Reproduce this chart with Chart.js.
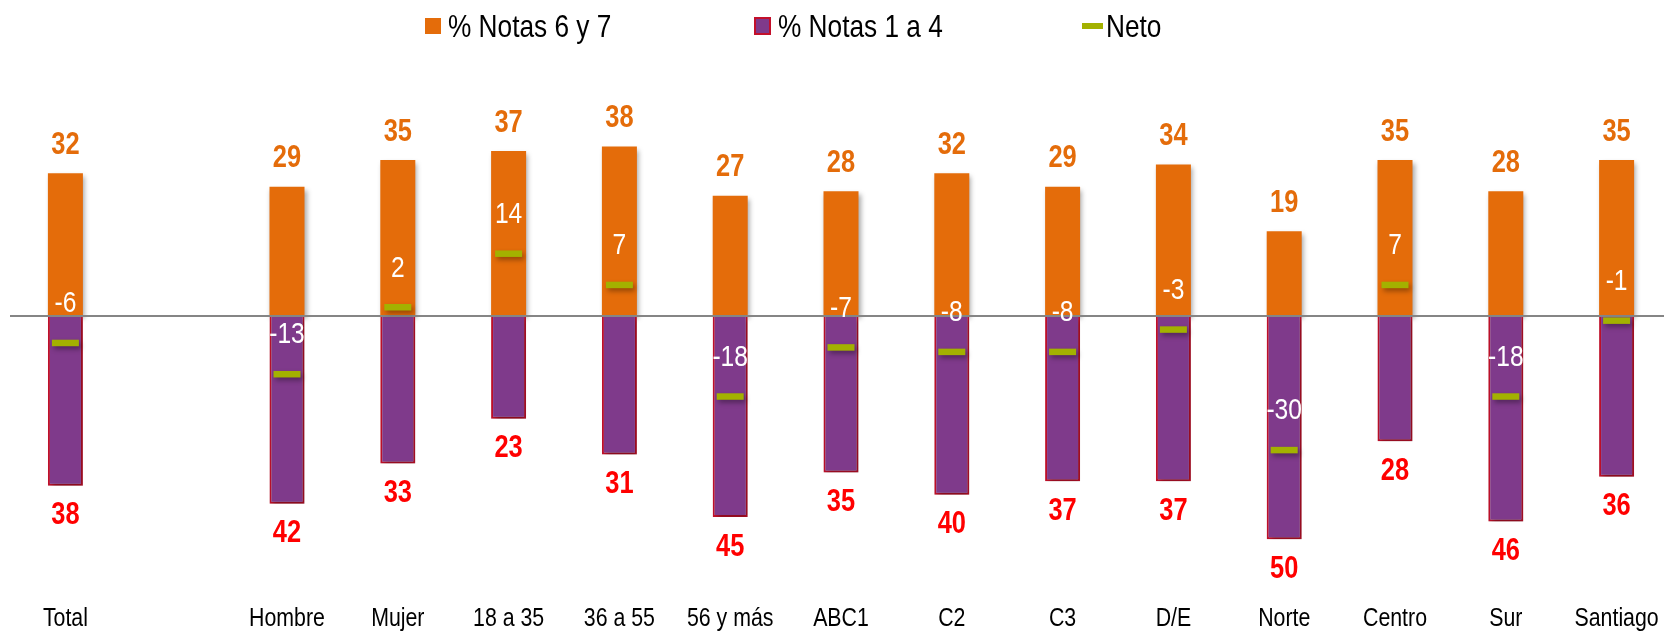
<!DOCTYPE html>
<html>
<head>
<meta charset="utf-8">
<script src="https://cdn.jsdelivr.net/npm/chart.js@4/dist/chart.umd.min.js"></script>
<style>
  html, body { margin: 0; padding: 0; background: #ffffff; }
  #wrap { width: 1664px; height: 633px; }
</style>
</head>
<body>
<div id="wrap"><canvas id="c" width="1664" height="633"></canvas></div>
<script>
// ---- data ----
const categories = ['Total', '', 'Hombre', 'Mujer', '18 a 35', '36 a 55', '56 y más', 'ABC1', 'C2', 'C3', 'D/E', 'Norte', 'Centro', 'Sur', 'Santiago'];
const notas67 = [32, null, 29, 35, 37, 38, 27, 28, 32, 29, 34, 19, 35, 28, 35];
const notas14 = [38, null, 42, 33, 23, 31, 45, 35, 40, 37, 37, 50, 28, 46, 36];
const neto = [-6, null, -13, 2, 14, 7, -18, -7, -8, -8, -3, -30, 7, -18, -1];
const seriesNames = ['% Notas 6 y 7', '% Notas 1 a 4', 'Neto'];

// ---- styles ----
const FONT = '"Liberation Sans", Arial, sans-serif';
const NARROW = 0.82; // emulate Arial Narrow
const ORANGE = '#E46C0A';
const PURPLE = '#7F3A8B';
const PURPLE_BORDER = '#C3102B';
const OLIVE = '#A3B100';
const RED_LABEL = '#FF0000';

// plot area geometry (pixels)
const AREA = { left: 10, right: 1672, top: 93, bottom: 584 };

function narrowText(ctx, text, x, y, align) {
  ctx.save();
  ctx.translate(x, y);
  ctx.scale(NARROW, 1);
  ctx.textAlign = align;
  ctx.fillText(text, 0, 0);
  ctx.restore();
}

const areaPlugin = {
  id: 'fixedArea',
  afterLayout(chart) {
    const ca = chart.chartArea;
    ca.left = AREA.left; ca.right = AREA.right; ca.top = AREA.top; ca.bottom = AREA.bottom;
    ca.width = AREA.right - AREA.left; ca.height = AREA.bottom - AREA.top;
    const x = chart.scales.x, y = chart.scales.y;
    x.left = AREA.left; x.right = AREA.right; x.width = ca.width;
    x.top = AREA.bottom; x.bottom = chart.height; x.height = chart.height - AREA.bottom;
    x.configure();
    y.top = AREA.top; y.bottom = AREA.bottom; y.height = ca.height;
    y.left = AREA.left; y.right = AREA.left; y.width = 0;
    y.configure();
  }
};

const shadowPlugin = {
  id: 'shadow',
  beforeDatasetDraw(chart, args) {
    const ctx = chart.ctx;
    ctx.save();
    ctx.shadowColor = 'rgba(0,0,0,0.35)';
    ctx.shadowBlur = 5;
    ctx.shadowOffsetX = 2;
    ctx.shadowOffsetY = 3;
  },
  afterDatasetDraw(chart, args) {
    chart.ctx.restore();
    if (args.meta.type === 'bar') {
      const ctx = chart.ctx;
      const y0 = Math.round(chart.scales.y.getPixelForValue(0));
      ctx.save();
      ctx.strokeStyle = '#858585';
      ctx.lineWidth = 2;
      ctx.beginPath();
      ctx.moveTo(chart.chartArea.left, y0);
      ctx.lineTo(chart.width, y0);
      ctx.stroke();
      ctx.restore();
    }
  }
};

const labelPlugin = {
  id: 'valueLabels',
  afterDatasetsDraw(chart) {
    const ctx = chart.ctx;
    ctx.save();
    ctx.textBaseline = 'middle';
    const m0 = chart.getDatasetMeta(0), m1 = chart.getDatasetMeta(1), m2 = chart.getDatasetMeta(2);
    ctx.font = 'bold 31px ' + FONT;
    m0.data.forEach((el, i) => {
      if (notas67[i] == null) return;
      ctx.fillStyle = ORANGE;
      narrowText(ctx, String(notas67[i]), el.x, el.y - 28, 'center');
    });
    m1.data.forEach((el, i) => {
      if (notas14[i] == null) return;
      ctx.fillStyle = RED_LABEL;
      narrowText(ctx, String(notas14[i]), el.x, el.y + 30, 'center');
    });
    ctx.font = '30px ' + FONT;
    ctx.fillStyle = '#FFFFFF';
    m2.data.forEach((el, i) => {
      if (neto[i] == null) return;
      narrowText(ctx, String(neto[i]), el.x, el.y - 39, 'center');
    });
    // category labels
    const xs = chart.scales.x;
    ctx.font = '26px ' + FONT;
    ctx.fillStyle = '#000';
    categories.forEach((c, i) => {
      if (!c) return;
      narrowText(ctx, c, xs.getPixelForValue(i), 619, 'center');
    });
    ctx.restore();
  }
};

const legendPlugin = {
  id: 'customLegend',
  afterDraw(chart) {
    const ctx = chart.ctx;
    ctx.save();
    ctx.font = '32px ' + FONT;
    ctx.textBaseline = 'middle';
    const cy = 28;
    const ds = chart.data.datasets;
    ctx.fillStyle = ORANGE;
    ctx.fillRect(425, 18, 16, 16);
    ctx.fillStyle = '#000';
    narrowText(ctx, ds[0].label, 448, cy, 'left');
    ctx.fillStyle = PURPLE;
    ctx.fillRect(755, 18, 15, 16);
    ctx.strokeStyle = PURPLE_BORDER;
    ctx.lineWidth = 2;
    ctx.strokeRect(755, 18, 15, 16);
    ctx.fillStyle = '#000';
    narrowText(ctx, ds[1].label, 778, cy, 'left');
    ctx.strokeStyle = OLIVE;
    ctx.lineWidth = 6;
    ctx.beginPath();
    ctx.moveTo(1082, 26);
    ctx.lineTo(1103, 26);
    ctx.stroke();
    ctx.fillStyle = '#000';
    narrowText(ctx, ds[2].label, 1106, cy, 'left');
    ctx.restore();
  }
};

new Chart(document.getElementById('c'), {
  data: {
    labels: categories,
    datasets: [
      {
        type: 'bar', label: seriesNames[0], data: notas67,
        backgroundColor: ORANGE, borderWidth: 0, grouped: false, order: 2,
        barPercentage: 0.316, categoryPercentage: 1
      },
      {
        type: 'bar', label: seriesNames[1], data: notas14.map(v => v == null ? null : -v),
        backgroundColor: PURPLE, borderColor: PURPLE_BORDER, borderWidth: 2, grouped: false, order: 1,
        barPercentage: 0.316, categoryPercentage: 1
      },
      {
        type: 'line', label: seriesNames[2], data: neto,
        showLine: false, pointStyle: 'line', pointRadius: 13.5, pointHoverRadius: 13.5,
        pointBorderWidth: 6.5, pointBorderColor: OLIVE, pointBackgroundColor: OLIVE,
        borderColor: OLIVE, order: 0, clip: false
      }
    ]
  },
  options: {
    responsive: false,
    animation: false,
    devicePixelRatio: 1,
    layout: { padding: 0 },
    plugins: {
      legend: { display: false },
      tooltip: { enabled: false }
    },
    scales: {
      x: {
        type: 'category',
        grid: { display: false },
        border: { display: false },
        ticks: { display: false }
      },
      y: { display: false, min: -60, max: 50 }
    }
  },
  plugins: [areaPlugin, shadowPlugin, labelPlugin, legendPlugin]
});
</script>
</body>
</html>
